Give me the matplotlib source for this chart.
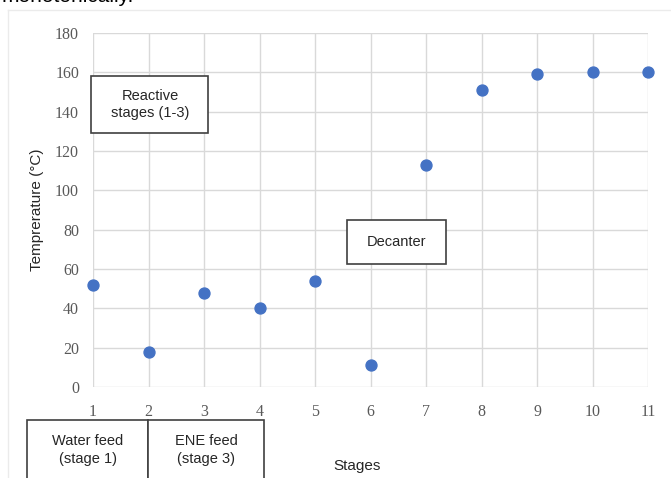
import matplotlib
matplotlib.use('Agg')
import matplotlib.pyplot as plt
from matplotlib.patches import Rectangle
from matplotlib.lines import Line2D

# 단별 온도 프로파일
stages = [1, 2, 3, 4, 5, 6, 7, 8, 9, 10, 11]
temperature = [52, 18, 48, 40, 54, 11, 113, 151, 159, 160, 160]
y_ticks = [0, 20, 40, 60, 80, 100, 120, 140, 160, 180]

W, H = 671, 478
fig = plt.figure(figsize=(W / 100, H / 100), dpi=100)
fig.patch.set_facecolor('white')


def fx(px):
    return px / W


def fy(py):
    return 1 - py / H


ax = fig.add_axes([fx(93), fy(387), fx(648) - fx(93), fy(33) - fy(387)])
ax.scatter(stages, temperature, s=62, color='#4472C4', zorder=3, clip_on=False)

ax.set_xlim(1, 11)
ax.set_ylim(0, 180)
ax.set_xticks(stages)
ax.set_yticks(y_ticks)
ax.grid(True, color='#d9d9d9', linewidth=1.0)
ax.set_axisbelow(True)
for s in ax.spines.values():
    s.set_visible(False)
ax.tick_params(length=0, labelsize=11.5, labelcolor='#595959')
ax.tick_params(axis='y', pad=10)
ax.tick_params(axis='x', pad=12)
for lab in ax.get_xticklabels() + ax.get_yticklabels():
    lab.set_family('Liberation Serif')

ax.set_ylabel('Temprerature (°C)', family='Liberation Sans', fontsize=11,
              color='#262626', labelpad=8)

fig.text(fx(357), fy(466), 'Stages', family='Liberation Sans', fontsize=11,
         color='#262626', ha='center', va='center')

# 바깥 테두리 (왼쪽, 위쪽)
fig.add_artist(Line2D([fx(8), fx(8)], [fy(10), 0], color='#ebebeb', lw=1))
fig.add_artist(Line2D([fx(8), 1], [fy(10), fy(10)], color='#ebebeb', lw=1))

# 위쪽 잘린 본문 텍스트
fig.text(fx(2), fy(1.5), 'monotonically.', family='Liberation Sans', fontsize=15,
         color='black', ha='left', va='baseline')


def note_box(x0, y0, x1, y1):
    fig.add_artist(Rectangle((fx(x0), fy(y1)), fx(x1) - fx(x0), fy(y0) - fy(y1),
                             facecolor='white', edgecolor='#404040', lw=1.2,
                             transform=fig.transFigure, zorder=5))


# 주석 박스
note_box(91, 76, 208, 133)
fig.text(fx(150), fy(104.5), 'Reactive\nstages (1-3)', family='Liberation Sans',
         fontsize=10.5, color='#262626', ha='center', va='center',
         linespacing=1.35, zorder=6)

note_box(347, 220, 446, 264)
fig.text(fx(397), fy(242), 'Decanter', family='Liberation Sans',
         fontsize=10.5, color='#262626', ha='center', va='center', zorder=6)

note_box(27, 420, 148, 490)
fig.text(fx(88), fy(450), 'Water feed\n(stage 1)', family='Liberation Sans',
         fontsize=10.5, color='#262626', ha='center', va='center',
         linespacing=1.35, zorder=6)

note_box(148, 420, 264, 490)
fig.text(fx(206), fy(450), 'ENE feed\n(stage 3)', family='Liberation Sans',
         fontsize=10.5, color='#262626', ha='center', va='center',
         linespacing=1.35, zorder=6)

fig.savefig('out.png', dpi=100)
